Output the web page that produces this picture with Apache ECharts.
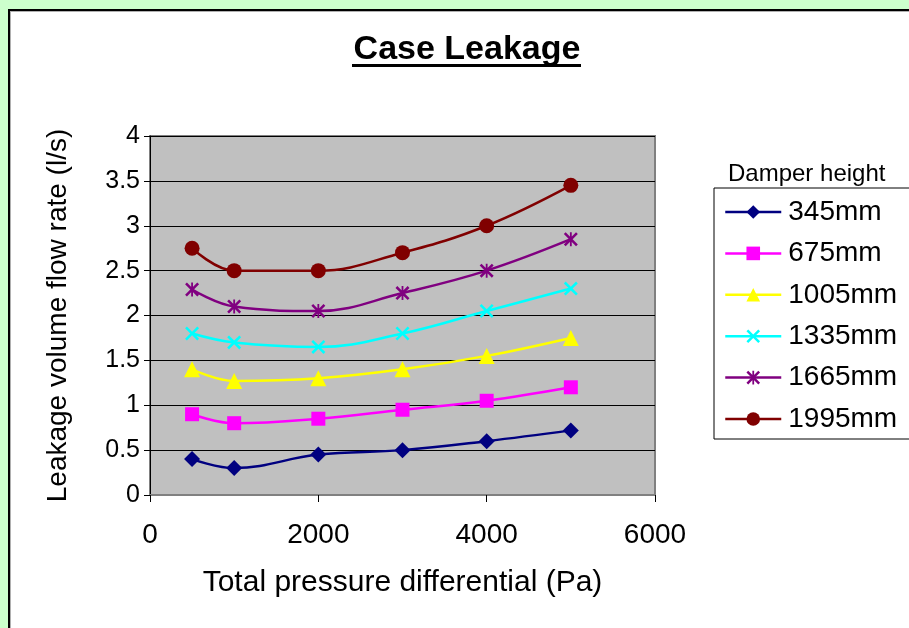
<!DOCTYPE html>
<html>
<head>
<meta charset="utf-8">
<script src="https://cdn.jsdelivr.net/npm/echarts@6/dist/echarts.min.js"></script>
<style>
html,body{margin:0;padding:0;background:#ccffcc;width:909px;height:628px;overflow:hidden;}
#frame{position:absolute;left:8px;top:9px;width:960px;height:700px;background:#fff;border-left:2px solid #000;border-top:2px solid #000;box-shadow:inset 1px 1px 0 #b0b0b0;}
#chart{position:absolute;left:0;top:0;width:909px;height:628px;}
</style>
</head>
<body>
<div id="frame"></div>
<div id="chart"></div>
<script>
const pressures = [500, 1000, 2000, 3000, 4000, 5000];
const seriesNames = ['345mm', '675mm', '1005mm', '1335mm', '1665mm', '1995mm'];
const s345  = [0.40, 0.30, 0.45, 0.50, 0.60, 0.72];
const s675  = [0.90, 0.80, 0.85, 0.95, 1.05, 1.20];
const s1005 = [1.40, 1.27, 1.30, 1.40, 1.55, 1.75];
const s1335 = [1.80, 1.70, 1.65, 1.80, 2.05, 2.30];
const s1665 = [2.29, 2.10, 2.05, 2.25, 2.50, 2.85];
const s1995 = [2.75, 2.50, 2.50, 2.70, 3.00, 3.45];
const xTicks = [0, 2000, 4000, 6000];
const yTicks = [0, 0.5, 1, 1.5, 2, 2.5, 3, 3.5, 4];

const t = 1.3;
const xPath = `path://M0,${t}L${t},0L5,${5-t}L${10-t},0L10,${t}L${5+t},5L10,${10-t}L${10-t},10L5,${5+t}L${t},10L0,${10-t}L${5-t},5Z`;
const starPath = xPath + `M${5-t/2},0L${5+t/2},0L${5+t/2},10L${5-t/2},10Z`;

const styles = [
  {color:'#000080', symbol:'diamond', size:16},
  {color:'#ff00ff', symbol:'rect', size:14},
  {color:'#ffff00', symbol:'triangle', size:16},
  {color:'#00ffff', symbol:xPath, size:14},
  {color:'#800080', symbol:starPath, size:14},
  {color:'#800000', symbol:'circle', size:15}
];
const allData = [s345, s675, s1005, s1335, s1665, s1995];

const chart = echarts.init(document.getElementById('chart'), null, {renderer:'canvas'});
const font = 'Liberation Sans, Arial, sans-serif';
chart.setOption({
  animation:false,
  textStyle:{fontFamily:font},
  title:[{
    text:'Case Leakage', left:462, top:28, textAlign:'center',
    textStyle:{fontSize:34, fontWeight:'bold', color:'#000', fontFamily:font}
  },{
    text:'Damper height', left:723, top:157,
    textStyle:{fontSize:24, fontWeight:'normal', color:'#000', fontFamily:font}
  }],
  graphic:[{type:'rect', shape:{x:352, y:64, width:229, height:3}, style:{fill:'#000'}}],
  grid:{left:150, top:136, right:254, bottom:133, show:true, backgroundColor:'#c0c0c0', borderColor:'#808080', borderWidth:2},
  xAxis:{
    type:'value', min:xTicks[0], max:xTicks[xTicks.length-1], interval:2000,
    axisLine:{show:true, lineStyle:{color:'#808080', width:2}},
    axisTick:{show:true, length:7, lineStyle:{color:'#000'}},
    splitLine:{show:false},
    axisLabel:{fontSize:28, color:'#000', margin:26, fontFamily:font, formatter:(v)=>String(v)},
    name:'Total pressure differential (Pa)', nameLocation:'middle', nameGap:73,
    nameTextStyle:{fontSize:30, color:'#000', fontFamily:font}
  },
  yAxis:{
    type:'value', min:yTicks[0], max:yTicks[yTicks.length-1], interval:0.5,
    axisLine:{show:true, lineStyle:{color:'#000', width:1}},
    axisTick:{show:true, length:6, lineStyle:{color:'#000'}},
    splitLine:{show:true, lineStyle:{color:'#000', width:1}},
    axisLabel:{fontSize:25, color:'#000', margin:10, fontFamily:font},
    name:'Leakage volume flow rate (l/s)', nameLocation:'middle', nameGap:78,
    nameTextStyle:{fontSize:28, color:'#000', fontFamily:font}
  },
  legend:{
    orient:'vertical', left:714, top:188,
    padding:[10, 30, 6, 10],
    borderColor:'#000', borderWidth:1,
    itemWidth:56, itemHeight:17, itemGap:13.4,
    lineStyle:{width:2.5},
    textStyle:{fontSize:28, color:'#000', lineHeight:28, fontFamily:font, padding:[0,0,0,2]},
    data:seriesNames
  },
  series: seriesNames.map((n,i)=>({
    name:n, type:'line', smooth:0.4,
    data: pressures.map((p,j)=>[p, allData[i][j]]),
    symbol: styles[i].symbol, symbolSize: styles[i].size,
    lineStyle:{color:styles[i].color, width:2.5},
    itemStyle:{color:styles[i].color},
    z: 10-i
  }))
});
</script>
</body>
</html>
